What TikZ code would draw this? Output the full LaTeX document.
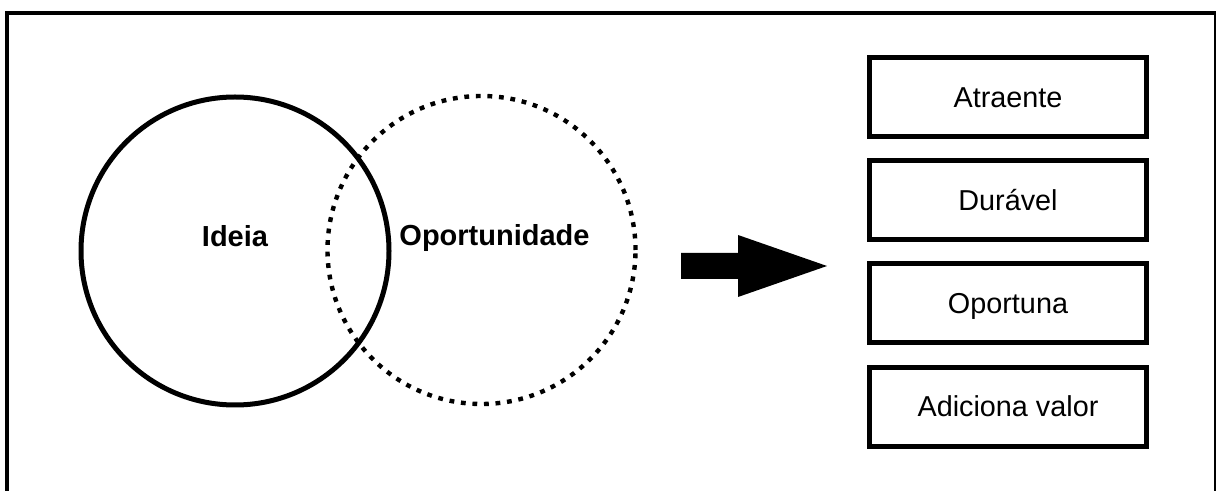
\documentclass[tikz,border=0pt]{standalone}
\usepackage{fontspec}
\setmainfont{Liberation Sans}
\usepackage{tikz}
\usetikzlibrary{positioning}

\begin{document}
\begin{tikzpicture}[x=0.5pt,y=-0.5pt,node distance=51.6pt]
\tikzstyle{quadro} = [rectangle, draw, line width=2.5pt, minimum width=138.75pt, minimum height=39.5pt, inner sep=0pt, text height=10.3pt, text depth=0pt, font=\fontsize{14.4}{17}\selectfont]
\tikzstyle{conjunto} = [circle, draw, line width=2.5pt, minimum size=154pt, inner sep=0pt]
\tikzstyle{pontilhado}=[conjunto,
                                    line width=2.2pt,
                                    dash pattern=on 2.4pt off 3.38pt]
\tikzstyle{rotulo} = [anchor=base, inner sep=0pt, font=\bfseries\fontsize{14.5}{17}\selectfont]
\useasboundingbox (0,0) rectangle (1216,491);
% moldura
\draw[line width=2pt] (7,491) |- (1215.5,13) -- (1215.5,491);
% diagrama
\node[conjunto] (ideia) at (235,251) {};
\node[pontilhado] (oport) at (481.5,250) {};
\node[rotulo] (tIdeia) at (235,247) {Ideia};
\node[rotulo] (tOport) at (494.5,246) {Oportunidade};
% seta
\coordinate (setaIni) at (681,266);
\coordinate (setaFim) at (827,266);
\fill (setaIni) ++(0,-13) -- ++(57,0) -- ++(0,-18) -- (setaFim) -- ++(-89,31) -- ++(0,-18) -- ++(-57,0) -- cycle;
% caracteristicas
\node[quadro] (atraente) at (1008,97) {Atraente};
\node[quadro][below of=atraente] (duravel) {Durável};
\node[quadro][below of=duravel] (oportuna) {Oportuna};
\node[quadro][below of=oportuna] (valor) {Adiciona valor};
\end{tikzpicture}
\end{document}
